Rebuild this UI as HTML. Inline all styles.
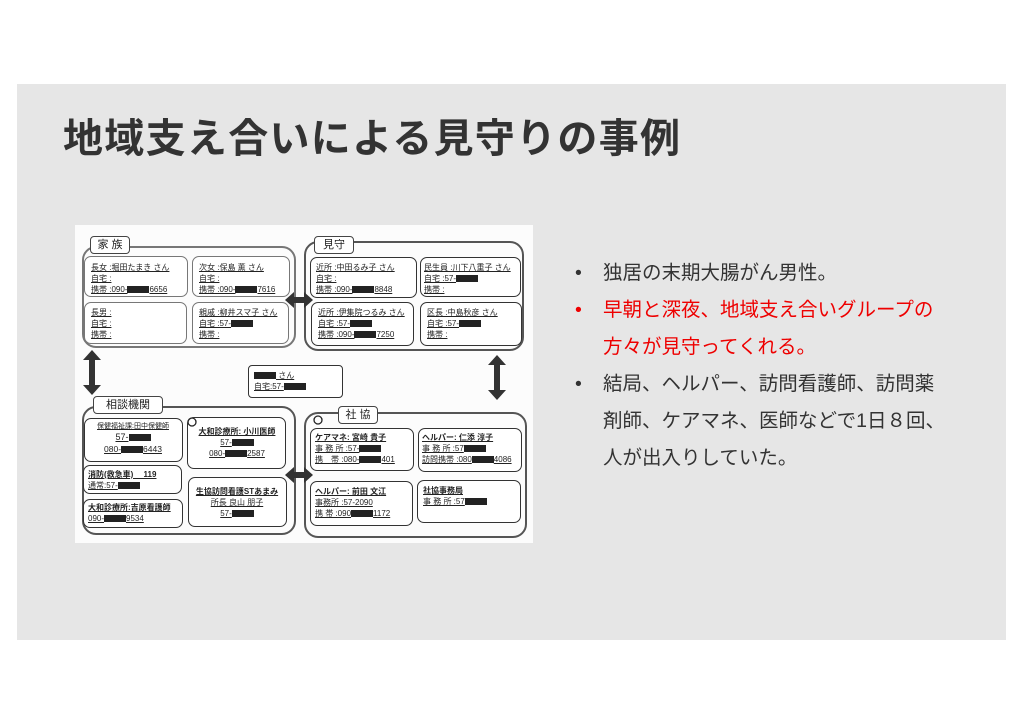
<!DOCTYPE html>
<html><head><meta charset="utf-8"><style>
*{margin:0;padding:0;box-sizing:border-box}
body{width:1024px;height:724px;background:#fff;position:relative;overflow:hidden;font-family:"Liberation Sans","Noto Sans CJK JP",sans-serif}
.slide{position:absolute;left:17px;top:84px;width:989px;height:556px;background:#e6e6e6}
.title{position:absolute;left:63px;top:106px;font-size:40px;font-weight:bold;color:#333;letter-spacing:1.3px;white-space:nowrap}
.scan{position:absolute;left:75px;top:225px;width:458px;height:318px;background:#fcfcfc}
.b{position:absolute;border:1.5px solid #333;border-radius:7px;background:#fff}
.g{position:absolute;border:2px solid #555;border-radius:14px}
.tab{position:absolute;border:1.5px solid #444;border-radius:4px;background:#fff;font-size:11px;text-align:center;line-height:16px;color:#222}
.t{position:absolute;font-size:8px;line-height:11px;color:#222;white-space:nowrap}
.t span{text-decoration:underline}
.k{display:inline-block;width:22px;height:7px;background:#222;vertical-align:middle}
.list{position:absolute;left:575px;top:255px;font-size:19.5px;line-height:37px;color:#333;white-space:nowrap}
.list div{position:relative;padding-left:28px}
.list div:before{content:"•";position:absolute;left:0}
.red{color:#e00}
</style></head><body>
<div class="slide"></div>
<div class="title">地域支え合いによる見守りの事例</div>
<div class="scan"></div>

<div class="g" style="left:82px;top:246px;width:214px;height:102px;border-color:#777"></div>
<div class="tab" style="left:90px;top:236px;width:40px;height:18px">家 族</div>
<div class="g" style="left:304px;top:241px;width:220px;height:110px"></div>
<div class="tab" style="left:314px;top:236px;width:40px;height:18px">見守</div>
<div class="g" style="left:82px;top:406px;width:214px;height:129px"></div>
<div class="tab" style="left:93px;top:396px;width:70px;height:18px">相談機関</div>
<div class="g" style="left:304px;top:412px;width:223px;height:126px"></div>
<div class="tab" style="left:338px;top:406px;width:40px;height:18px">社 協</div>

<div class="b" style="left:84px;top:256px;width:104px;height:41px;border-color:#777"></div>
<div class="t" style="left:91px;top:262px"><span>長女 :堀田たまき さん</span><br><span>自宅 :</span><br><span>携帯 :090-<i class="k"></i>6656</span></div>
<div class="b" style="left:192px;top:256px;width:98px;height:41px;border-color:#777"></div>
<div class="t" style="left:199px;top:262px"><span>次女 :保島 薫 さん</span><br><span>自宅 :</span><br><span>携帯 :090-<i class="k"></i>7616</span></div>
<div class="b" style="left:84px;top:302px;width:103px;height:42px;border-color:#777"></div>
<div class="t" style="left:91px;top:307px"><span>長男 :</span><br><span>自宅 :</span><br><span>携帯 :</span></div>
<div class="b" style="left:192px;top:302px;width:97px;height:42px;border-color:#777"></div>
<div class="t" style="left:199px;top:307px"><span>親戚 :柳井スマ子 さん</span><br><span>自宅 :57-<i class="k"></i></span><br><span>携帯 :</span></div>

<div class="b" style="left:310px;top:257px;width:107px;height:41px"></div>
<div class="t" style="left:316px;top:262px"><span>近所 :中田るみ子 さん</span><br><span>自宅 :</span><br><span>携帯 :090-<i class="k"></i>8848</span></div>
<div class="b" style="left:420px;top:257px;width:101px;height:40px"></div>
<div class="t" style="left:424px;top:262px"><span>民生員 :川下八重子 さん</span><br><span>自宅 :57-<i class="k"></i></span><br><span>携帯 :</span></div>
<div class="b" style="left:311px;top:302px;width:103px;height:44px"></div>
<div class="t" style="left:318px;top:307px"><span>近所 :伊集院つるみ さん</span><br><span>自宅 :57-<i class="k"></i></span><br><span>携帯 :090-<i class="k"></i>7250</span></div>
<div class="b" style="left:420px;top:302px;width:102px;height:44px"></div>
<div class="t" style="left:427px;top:307px"><span>区長 :中島秋彦 さん</span><br><span>自宅 :57-<i class="k"></i></span><br><span>携帯 :</span></div>

<div class="b" style="left:248px;top:365px;width:95px;height:33px;border-radius:4px"></div>
<div class="t" style="left:254px;top:370px"><span><i class="k"></i> さん</span><br><span>自宅:57-<i class="k"></i></span></div>

<div class="b" style="left:84px;top:418px;width:99px;height:44px"></div>
<div class="t" style="left:88px;top:421px;text-align:center;width:90px;font-size:7px"><span>保健福祉課:田中保健師</span><br><span style="font-size:9px">57-<i class="k"></i></span><br><span style="font-size:8.5px">080-<i class="k"></i>6443</span></div>
<div class="b" style="left:187px;top:417px;width:99px;height:52px"></div>
<div class="t" style="left:192px;top:426px;text-align:center;width:90px"><span style="font-weight:bold">大和診療所: 小川医師</span><br><span>57-<i class="k"></i></span><br><span>080-<i class="k"></i>2587</span></div>
<div class="b" style="left:83px;top:465px;width:99px;height:29px"></div>
<div class="t" style="left:88px;top:469px"><span style="font-weight:bold">消防(救急車)　 119</span><br><span>通常:57-<i class="k"></i></span></div>
<div class="b" style="left:83px;top:499px;width:100px;height:29px"></div>
<div class="t" style="left:88px;top:502px"><span style="font-weight:bold">大和診療所:吉原看護師</span><br><span>090-<i class="k"></i>9534</span></div>
<div class="b" style="left:188px;top:477px;width:99px;height:50px"></div>
<div class="t" style="left:192px;top:486px;text-align:center;width:90px"><span style="font-weight:bold">生協訪問看護STあまみ</span><br><span>所長 良山 朋子</span><br><span>57-<i class="k"></i></span></div>

<div class="b" style="left:310px;top:428px;width:104px;height:43px"></div>
<div class="t" style="left:315px;top:432px"><span style="font-weight:bold">ケアマネ: 宮崎 貴子</span><br><span>事 務 所 :57-<i class="k"></i></span><br><span>携　帯 :080-<i class="k"></i>401</span></div>
<div class="b" style="left:418px;top:428px;width:104px;height:44px"></div>
<div class="t" style="left:422px;top:432px"><span style="font-weight:bold">ヘルパー: 仁添 淳子</span><br><span>事 務 所 :57<i class="k"></i></span><br><span>訪問携帯 :080<i class="k"></i>4086</span></div>
<div class="b" style="left:310px;top:481px;width:103px;height:45px"></div>
<div class="t" style="left:315px;top:486px"><span style="font-weight:bold">ヘルパー: 前田 文江</span><br><span>事務所 :57-2090</span><br><span>携 帯 :090<i class="k"></i>1172</span></div>
<div class="b" style="left:417px;top:480px;width:104px;height:43px"></div>
<div class="t" style="left:423px;top:485px"><span style="font-weight:bold">社協事務局</span><br><span>事 務 所 :57<i class="k"></i></span></div>

<svg style="position:absolute;left:0;top:0" width="1024" height="724">
<g fill="#333">
<polygon points="285,300 294,292 294,297 304,297 304,292 313,300 304,308 304,303 294,303 294,308"/>
<polygon points="92,350 101,360 95,360 95,385 101,385 92,395 83,385 89,385 89,360 83,360"/>
<polygon points="497,355 506,365 500,365 500,390 506,390 497,400 488,390 494,390 494,365 488,365"/>
<polygon points="285,475 294,467 294,472 304,472 304,467 313,475 304,483 304,478 294,478 294,483"/>
</g>
<circle cx="192" cy="422" r="4" fill="none" stroke="#222" stroke-width="1.3"/>
<circle cx="318" cy="420" r="4" fill="none" stroke="#222" stroke-width="1.3"/>
</svg>

<div class="list">
<div>独居の末期大腸がん男性。</div>
<div class="red">早朝と深夜、地域支え合いグループの<br>方々が見守ってくれる。</div>
<div>結局、ヘルパー、訪問看護師、訪問薬<br>剤師、ケアマネ、医師などで1日８回、<br>人が出入りしていた。</div>
</div>
</body></html>
